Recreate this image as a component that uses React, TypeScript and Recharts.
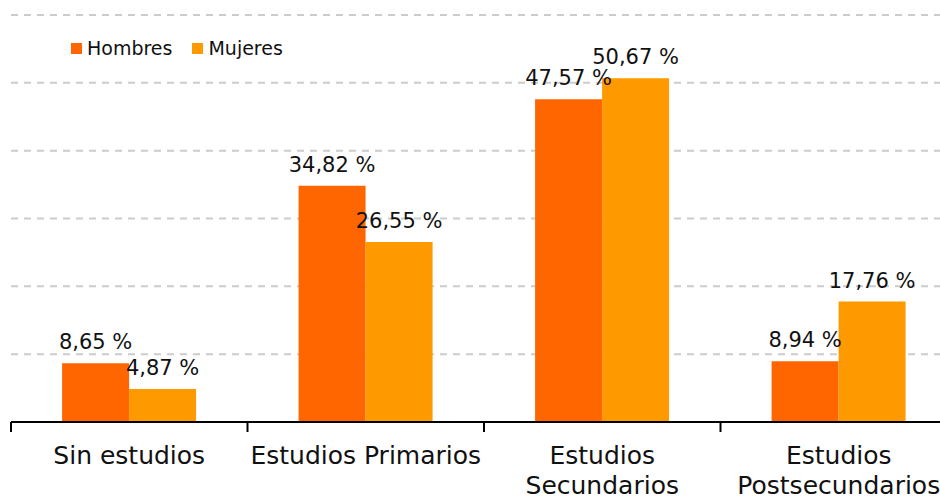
import React from "react";
import {
  BarChart,
  Bar,
  XAxis,
  YAxis,
  CartesianGrid,
  LabelList,
} from "recharts";

const categories = [
  "Sin estudios",
  "Estudios Primarios",
  "Estudios Secundarios",
  "Estudios Postsecundarios",
];
const hombres = [8.65, 34.82, 47.57, 8.94];
const mujeres = [4.87, 26.55, 50.67, 17.76];
const yTicks = [0, 10, 20, 30, 40, 50, 60];

const SERIES = [
  { key: "hombres", name: "Hombres", color: "#ff6600" },
  { key: "mujeres", name: "Mujeres", color: "#ff9900" },
];

const FONT = "'DejaVu Sans', Verdana, sans-serif";
const TICK_SIZE = 25;
const CHART_W = 960;
const CHART_H = 497;
const BAND = (CHART_W - 11 - 3) / categories.length;

const data = categories.map((c, i) => ({
  name: c,
  hombres: hombres[i],
  mujeres: mujeres[i],
}));

const fmt = (v: number) => `${v.toFixed(2).replace(".", ",")} %`;

// greedy word wrap, measured with a canvas
let ctx: CanvasRenderingContext2D | null = null;
function wrap(label: string, maxW: number): string[] {
  if (!ctx) ctx = document.createElement("canvas").getContext("2d");
  if (!ctx) return [label];
  ctx.font = `${TICK_SIZE}px 'DejaVu Sans'`;
  const lines: string[] = [];
  let cur = "";
  for (const w of label.split(" ")) {
    const test = cur ? `${cur} ${w}` : w;
    if (cur && ctx.measureText(test).width > maxW) {
      lines.push(cur);
      cur = w;
    } else {
      cur = test;
    }
  }
  if (cur) lines.push(cur);
  return lines;
}

function CategoryTick(props: any) {
  const { x, y, payload, index } = props;
  const left = x - BAND / 2;
  const lines = wrap(String(payload.value), BAND - 4);
  return (
    <g>
      <line x1={left} y1={y - 8} x2={left} y2={y + 2} stroke="#000" strokeWidth={2} />
      {index === categories.length - 1 && (
        <line x1={x + BAND / 2} y1={y - 8} x2={x + BAND / 2} y2={y + 2} stroke="#000" strokeWidth={2} />
      )}
      <text
        x={x}
        y={y + 34}
        textAnchor="middle"
        fill="#111"
        fontSize={TICK_SIZE}
        fontFamily={FONT}
      >
        {lines.map((l, i) => (
          <tspan key={i} x={x} dy={i === 0 ? 0 : 30}>
            {l}
          </tspan>
        ))}
      </text>
    </g>
  );
}

function LegendBox() {
  return (
    <div
      style={{
        position: "absolute",
        left: 71,
        top: 37,
        display: "flex",
        alignItems: "center",
        fontFamily: FONT,
        fontSize: 19,
        color: "#111",
      }}
    >
      {SERIES.map((s, i) => (
        <div key={s.key} style={{ display: "flex", alignItems: "center", marginRight: i === 0 ? 20 : 0 }}>
          <span style={{ width: 11, height: 11, background: s.color, display: "inline-block", marginRight: 5 }} />
          <span>{s.name}</span>
        </div>
      ))}
    </div>
  );
}

export default function App() {
  return (
    <div
      style={{
        position: "fixed",
        left: 0,
        top: 0,
        width: 940,
        height: 497,
        overflow: "hidden",
        background: "#fff",
      }}
    >
      <BarChart
        width={CHART_W}
        height={CHART_H}
        data={data}
        margin={{ top: 15, right: 3, bottom: 0, left: 11 }}
        barCategoryGap="21.6%"
        barGap={0}
      >
        <CartesianGrid
          vertical={false}
          stroke="#cccccc"
          strokeWidth={2}
          strokeDasharray="7 6"
        />
        <YAxis hide domain={[0, 60]} ticks={yTicks} />
        <XAxis
          dataKey="name"
          height={75}
          interval={0}
          axisLine={{ stroke: "#000", strokeWidth: 2 }}
          tickLine={false}
          tick={<CategoryTick />}
        />
        {SERIES.map((s) => (
          <Bar key={s.key} dataKey={s.key} name={s.name} fill={s.color} isAnimationActive={false}>
            <LabelList
              dataKey={s.key}
              position="top"
              offset={14}
              formatter={(v: any) => fmt(Number(v))}
              style={{ fontSize: 21, fontFamily: FONT, fill: "#111" }}
            />
          </Bar>
        ))}
      </BarChart>
      <LegendBox />
    </div>
  );
}
